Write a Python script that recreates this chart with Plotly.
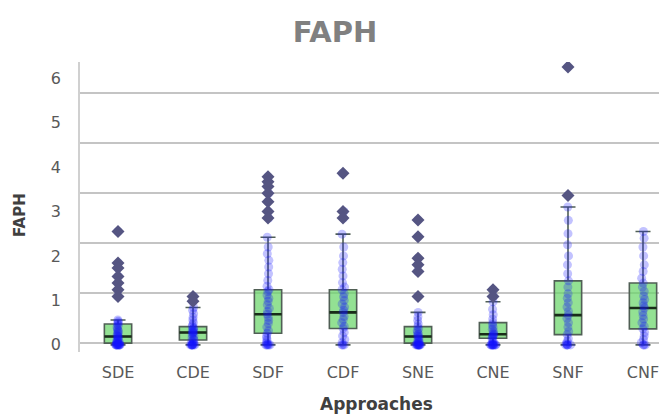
import plotly.graph_objects as go

categories = ["SDE", "CDE", "SDF", "CDF", "SNE", "CNE", "SNF", "CNF"]

q1 = [0.04, 0.11, 0.26, 0.37, 0.04, 0.15, 0.23, 0.36]
median = [0.19, 0.28, 0.69, 0.73, 0.19, 0.24, 0.67, 0.83]
q3 = [0.47, 0.41, 1.24, 1.24, 0.41, 0.50, 1.44, 1.39]
lowerfence = [0.0, 0.0, 0.0, 0.0, 0.0, 0.0, 0.0, 0.0]
upperfence = [0.56, 0.84, 2.42, 2.49, 0.73, 0.97, 3.10, 2.55]

outliers = {
    "SDE": [2.55, 1.84, 1.73, 1.54, 1.39, 1.24, 1.09],
    "CDE": [1.09, 0.98],
    "SDF": [3.78, 3.67, 3.56, 3.41, 3.22, 3.00, 2.85],
    "CDF": [3.86, 3.00, 2.85],
    "SNE": [2.81, 2.43, 1.95, 1.80, 1.65, 1.09],
    "CNE": [1.24, 1.09],
    "SNF": [3.36, 6.25],
    "CNF": [],
}

core_points = {
    "SDE": [0, 0, 0, 0, 0, 0, 0, 0, 0, 0, 0.01, 0.02, 0.03, 0.04, 0.05, 0.06, 0.08,
            0.10, 0.12, 0.14, 0.16, 0.19, 0.20, 0.22, 0.25, 0.28, 0.30, 0.33, 0.36,
            0.40, 0.44, 0.47, 0.50, 0.53, 0.56],
    "CDE": [0, 0, 0, 0, 0, 0, 0, 0, 0.02, 0.05, 0.08, 0.11, 0.13, 0.16, 0.20, 0.23,
            0.26, 0.28, 0.29, 0.31, 0.33, 0.36, 0.38, 0.41, 0.45, 0.50, 0.56, 0.62,
            0.70, 0.78, 0.84],
    "SDF": [0, 0, 0, 0, 0, 0.02, 0.05, 0.10, 0.15, 0.20, 0.26, 0.32, 0.40, 0.48,
            0.55, 0.62, 0.69, 0.75, 0.82, 0.90, 0.98, 1.05, 1.12, 1.20, 1.24, 1.32,
            1.45, 1.60, 1.75, 1.90, 2.05, 2.20, 2.42],
    "CDF": [0, 0, 0, 0.05, 0.12, 0.20, 0.28, 0.37, 0.42, 0.50, 0.57, 0.64, 0.73,
            0.78, 0.85, 0.92, 1.00, 1.08, 1.15, 1.24, 1.30, 1.40, 1.55, 1.70, 1.85,
            2.00, 2.20, 2.49],
    "SNE": [0, 0, 0, 0, 0, 0, 0, 0, 0, 0, 0.02, 0.04, 0.06, 0.08, 0.10, 0.13, 0.16,
            0.19, 0.21, 0.24, 0.28, 0.32, 0.36, 0.41, 0.47, 0.55, 0.63, 0.73],
    "CNE": [0, 0, 0, 0, 0, 0, 0, 0, 0, 0, 0.03, 0.07, 0.11, 0.15, 0.18, 0.20, 0.22,
            0.24, 0.26, 0.30, 0.35, 0.40, 0.45, 0.50, 0.58, 0.68, 0.80, 0.97],
    "SNF": [0, 0, 0, 0, 0, 0.03, 0.08, 0.14, 0.23, 0.30, 0.40, 0.50, 0.60, 0.67,
            0.75, 0.85, 0.95, 1.05, 1.15, 1.30, 1.44, 1.60, 1.80, 2.00, 2.25, 2.50,
            2.80, 3.10],
    "CNF": [0, 0, 0, 0.05, 0.12, 0.20, 0.28, 0.36, 0.42, 0.50, 0.58, 0.66, 0.74,
            0.83, 0.88, 0.95, 1.02, 1.10, 1.20, 1.30, 1.39, 1.50, 1.65, 1.80, 2.00,
            2.20, 2.40, 2.55],
}

y_ticks = [0, 1, 2, 3, 4, 5, 6]

fig = go.Figure()

# boxes
fig.add_trace(go.Box(
    x=categories, q1=q1, median=median, q3=q3,
    lowerfence=lowerfence, upperfence=upperfence,
    boxpoints=False, whiskerwidth=0.55,
    fillcolor="rgba(105,214,105,0.72)",
    line=dict(color="rgb(80,95,85)", width=1.6),
    showlegend=False, hoverinfo="skip",
))
# median lines
fig.add_trace(go.Box(
    x=categories, q1=median, median=median, q3=median,
    lowerfence=median, upperfence=median,
    boxpoints=False, whiskerwidth=0,
    fillcolor="rgba(0,0,0,0)",
    line=dict(color="rgb(25,45,25)", width=2.6),
    showlegend=False, hoverinfo="skip",
))
# outliers (fliers)
ox, oy = [], []
for c in categories:
    ox += [c] * len(outliers[c])
    oy += outliers[c]
fig.add_trace(go.Scatter(
    x=ox, y=oy, mode="markers",
    marker=dict(symbol="diamond", size=10, color="rgb(85,85,130)"),
    showlegend=False, hoverinfo="skip",
))
# strip points
px, py = [], []
for c in categories:
    vals = core_points[c] + outliers[c]
    px += [c] * len(vals)
    py += vals
fig.add_trace(go.Box(
    x=px, y=py, boxpoints="all", jitter=0.2, pointpos=0,
    fillcolor="rgba(0,0,0,0)", line=dict(color="rgba(0,0,0,0)", width=0),
    marker=dict(color="rgba(20,20,255,0.26)", size=9, line=dict(width=0)),
    showlegend=False, hoverinfo="skip",
))
# dummy trace for grid axis
fig.add_trace(go.Scatter(x=[categories[0]], y=[None], yaxis="y2",
                         showlegend=False, hoverinfo="skip"))

# page body has an 8px margin: figure is 659x406 placed at (8, 8)
W, H = 659, 406
font_fam = "DejaVu Sans"
fig.update_layout(
    width=W, height=H,
    margin=dict(l=72, r=0, t=54, b=62, autoexpand=False),
    paper_bgcolor="white", plot_bgcolor="white",
    boxmode="overlay", boxgap=0.48,
    font=dict(family=font_fam, color="#595959"),
    title=dict(text="<b>FAPH</b>", x=327 / W, xref="container", xanchor="center",
               y=1 - 24 / H, yanchor="middle",
               font=dict(size=29, color="#808080", family=font_fam)),
    xaxis=dict(type="category", categoryorder="array", categoryarray=categories,
               range=[-0.507, 7.32], showgrid=False, zeroline=False, showline=False,
               ticks="outside", ticklen=6, tickcolor="rgba(0,0,0,0)",
               tickfont=dict(size=16, color="#595959"), automargin=False),
    yaxis=dict(range=[-0.16, 6.36], tickvals=y_ticks, showgrid=False, zeroline=False,
               showline=True, linecolor="#d0d0d0", linewidth=1.5,
               ticks="outside", ticklen=14, tickcolor="rgba(0,0,0,0)",
               tickfont=dict(size=16, color="#595959"), automargin=False),
    yaxis2=dict(overlaying="y", range=[-0.18, 5.62], dtick=1, tick0=0,
                showgrid=True, gridcolor="#c4c4c4", gridwidth=2,
                showticklabels=False, zeroline=False, showline=False,
                automargin=False),
    annotations=[
        dict(text="<b>FAPH</b>", xref="paper", yref="paper", x=(20 - 80) / 587,
             y=(352 - 215) / 290, textangle=-90, showarrow=False,
             xanchor="center", yanchor="middle",
             font=dict(size=15, color="#404040")),
        dict(text="<b>Approaches</b>", xref="paper", yref="paper", x=(377 - 80) / 587,
             y=(352 - 404) / 290, showarrow=False,
             xanchor="center", yanchor="middle",
             font=dict(size=17, color="#404040")),
    ],
)

fig.write_html("out.html")
